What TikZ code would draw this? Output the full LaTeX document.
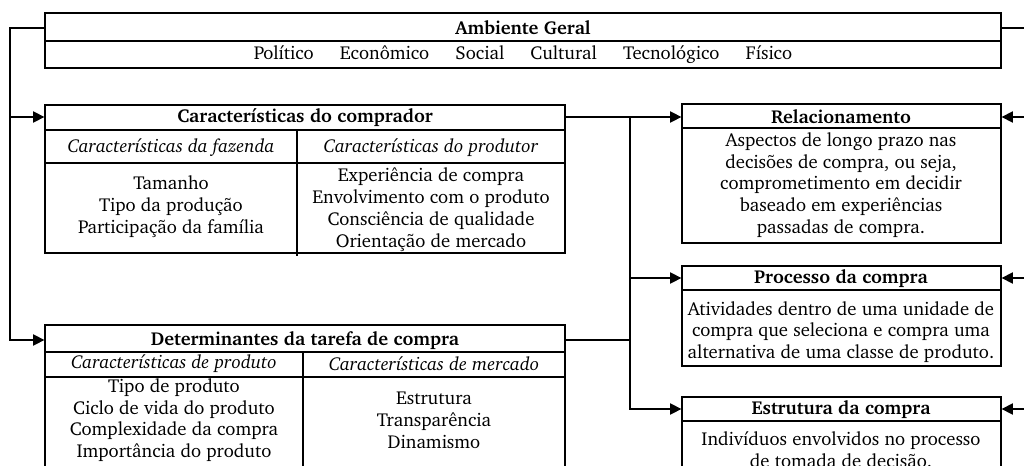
\documentclass[tikz,border=0pt]{standalone}
\usepackage[T1]{fontenc}
\usepackage{charter}
\usetikzlibrary{positioning,fit,arrows.meta}
\tikzset{
    frame/.style={draw, line width=0.9pt, inner sep=0pt},
    txt/.style={align=center, inner sep=0pt, font=\fontsize{13.3}{15.6}\selectfont},
    ttl/.style={txt, font=\fontsize{13.3}{15.6}\selectfont\bfseries},
    hdr/.style={txt, font=\fontsize{13.3}{15.6}\selectfont\itshape},
    link/.style={line width=0.9pt},
    arr/.style={link, -{Triangle[length=8pt,width=8pt]}},
}
\begin{document}
\begin{tikzpicture}[x=0.025cm,y=-0.025cm]
            \useasboundingbox (0,0) rectangle (1024,466);

            % ambiente geral
            \node[frame, fit={(45,13) (1001,68)}] (amb) {};
            \draw[link] (45,41) -- (1001,41);
            \node[ttl] (ambtitle) at (523,28) {Ambiente Geral};
            \node[txt] (ambitems) at (523,55) {Político\hspace{1.4em}Econômico\hspace{1.4em}Social\hspace{1.4em}Cultural\hspace{1.4em}Tecnológico\hspace{1.4em}Físico};

            % caracteristicas do comprador
            \node[frame, fit={(45,105) (565,253)}] (comp) {};
            \draw[link] (45,130) -- (565,130);
            \draw[link] (45,163) -- (565,163);
            \draw[link] (297,130) -- (297,256);
            \node[ttl] (comptitle) at (305,117) {Características do comprador};
            \node[hdr] (fazhdr) at (171,148) {Características da fazenda};
            \node[hdr] (prodhdr) at (431,148) {Características do produtor};
            \node[txt] (fazlist) at (171,207) {Tamanho\\Tipo da produção\\Participação da família};
            \node[txt] (prodlist) at (431,210) {Experiência de compra\\Envolvimento com o produto\\Consciência de qualidade\\Orientação de mercado};

            % determinantes da tarefa de compra
            \node[frame, fit={(45,325) (565,480)}] (det) {};
            \draw[link] (45,352) -- (565,352);
            \draw[link] (45,377) -- (565,377);
            \draw[link] (303,352) -- (303,480);
            \node[ttl] (dettitle) at (305,340) {Determinantes da tarefa de compra};
            \node[hdr] (prdhdr) at (174,364) {Características de produto};
            \node[hdr] (mkthdr) at (434,364) {Características de mercado};
            \node[txt] (prdlist) at (174,420) {Tipo de produto\\Ciclo de vida do produto\\Complexidade da compra\\Importância do produto};
            \node[txt] (mktlist) at (434,420) {Estrutura\\Transparência\\Dinamismo};

            % relacionamento
            \node[frame, fit={(682,104) (1001,243)}] (rel) {};
            \draw[link] (682,128) -- (1001,128);
            \node[ttl] (reltitle) at (841,117) {Relacionamento};
            \node[txt] (reltext) at (841,185) {Aspectos de longo prazo nas\\decisões de compra, ou seja,\\comprometimento em decidir\\baseado em experiências\\passadas de compra.};

            % processo da compra
            \node[frame, fit={(682,266) (1001,366)}] (proc) {};
            \draw[link] (682,290) -- (1001,290);
            \node[ttl] (proctitle) at (841,278) {Processo da compra};
            \node[txt] (proctext) at (841,332) {Atividades dentro de uma unidade de\\compra que seleciona e compra uma\\alternativa de uma classe de produto.};

            % estrutura da compra
            \node[frame, fit={(682,397) (1001,480)}] (est) {};
            \draw[link] (682,421) -- (1001,421);
            \node[ttl] (esttitle) at (841,409) {Estrutura da compra};
            \node[txt] (esttext) at (841,450) {Indivíduos envolvidos no processo\\de tomada de decisão.};

            % ligacoes
            \coordinate (lft) at (10,0);
            \coordinate (mid) at (630,0);
            \coordinate (rgt) at (1024,0);
            \draw[arr] (amb.west |- ambtitle) -- (lft |- ambtitle) |- (det.west |- dettitle);
            \draw[arr] (lft |- comptitle) -- (comp.west |- comptitle);
            \draw[link] (amb.east |- ambtitle) -- (rgt |- ambtitle);

            \draw[link] (comp.east |- comptitle) -- (mid |- comptitle);
            \draw[arr] (mid |- comptitle) -- (rel.west |- reltitle);
            \draw[arr] (mid |- comptitle) |- (est.west |- esttitle);
            \draw[arr] (mid |- proctitle) -- (proc.west |- proctitle);
            \draw[link] (det.east |- dettitle) -- (mid |- dettitle);

            \draw[arr] (rgt |- reltitle) -- (rel.east |- reltitle);
            \draw[arr] (rgt |- proctitle) -- (proc.east |- proctitle);
            \draw[arr] (rgt |- esttitle) -- (est.east |- esttitle);
        \end{tikzpicture}
\end{document}
